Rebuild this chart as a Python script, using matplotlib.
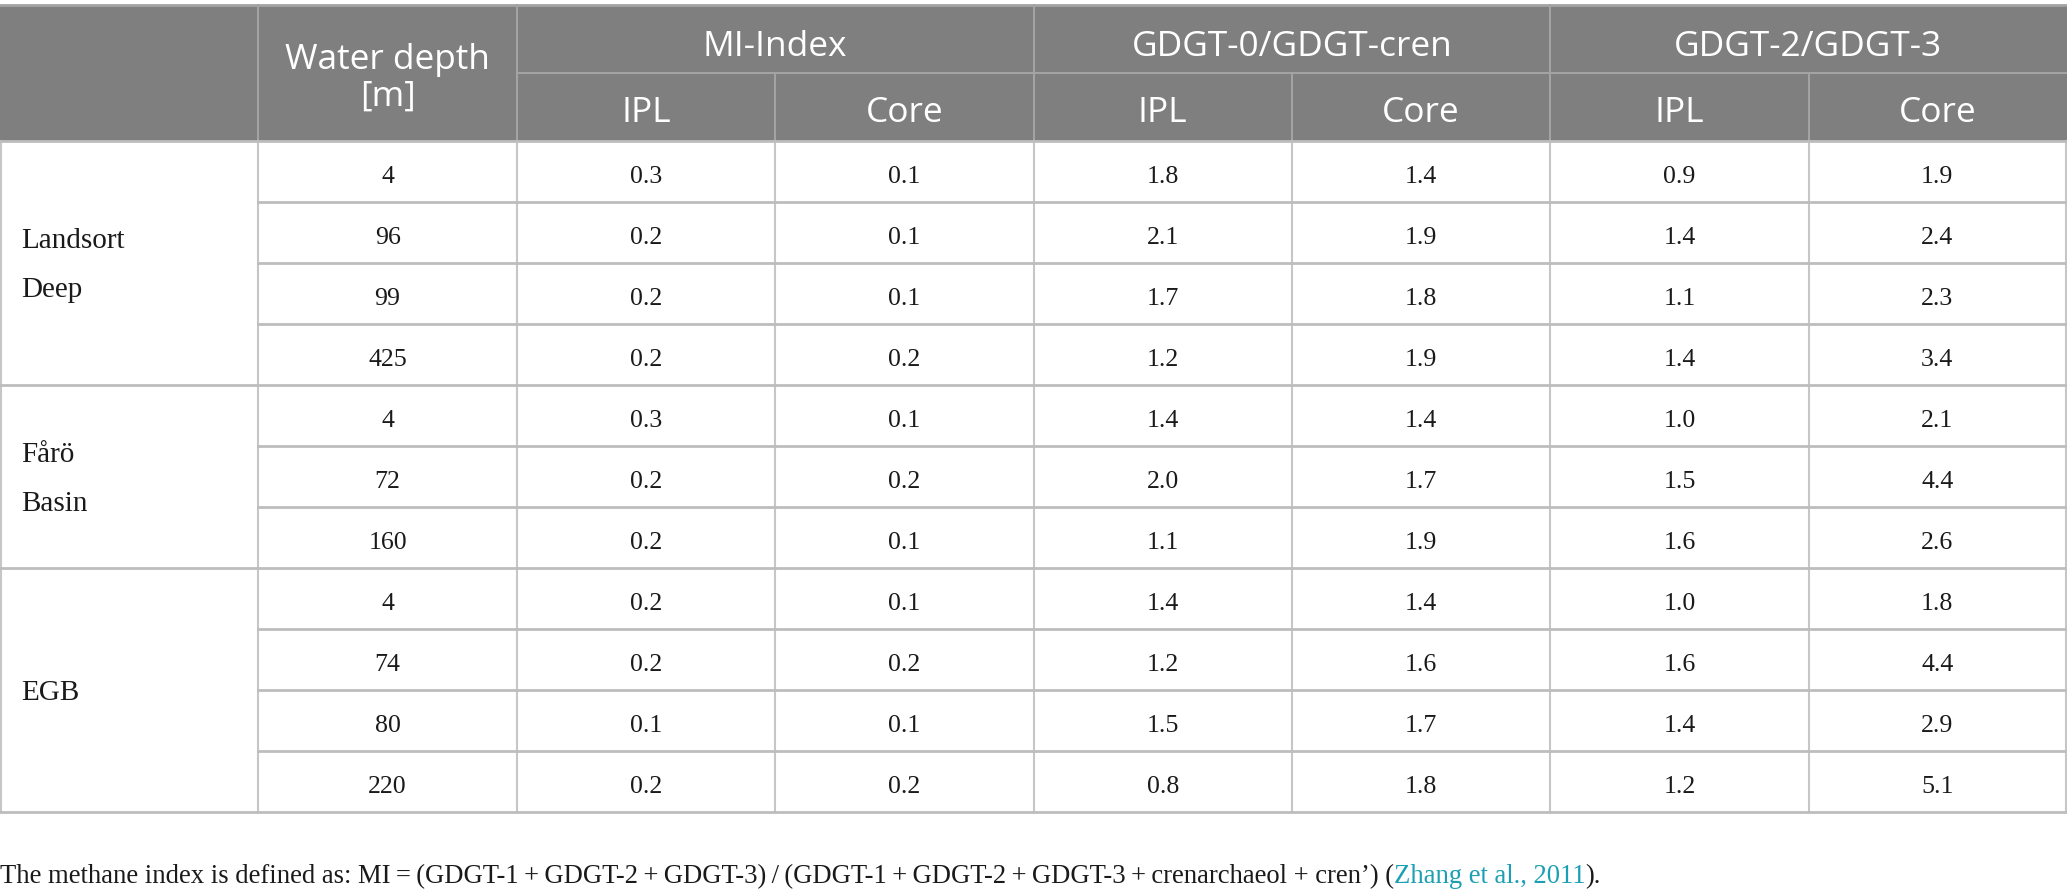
import matplotlib
matplotlib.use("Agg")
import matplotlib.pyplot as plt
from matplotlib.patches import Rectangle

# ---------------- data ----------------
groups = [["Landsort", "Deep"], ["Fårö", "Basin"], ["EGB"]]
group_sizes = [4, 3, 4]
depths = ["4", "96", "99", "425", "4", "72", "160", "4", "74", "80", "220"]
mi_ipl = ["0.3", "0.2", "0.2", "0.2", "0.3", "0.2", "0.2", "0.2", "0.2", "0.1", "0.2"]
mi_core = ["0.1", "0.1", "0.1", "0.2", "0.1", "0.2", "0.1", "0.1", "0.2", "0.1", "0.2"]
g0_ipl = ["1.8", "2.1", "1.7", "1.2", "1.4", "2.0", "1.1", "1.4", "1.2", "1.5", "0.8"]
g0_core = ["1.4", "1.9", "1.8", "1.9", "1.4", "1.7", "1.9", "1.4", "1.6", "1.7", "1.8"]
g23_ipl = ["0.9", "1.4", "1.1", "1.4", "1.0", "1.5", "1.6", "1.0", "1.6", "1.4", "1.2"]
g23_core = ["1.9", "2.4", "2.3", "3.4", "2.1", "4.4", "2.6", "1.8", "4.4", "2.9", "5.1"]
header_groups = ["MI-Index", "GDGT-0/GDGT-cren", "GDGT-2/GDGT-3"]
sub_headers = ["IPL", "Core"]
depth_header = ["Water depth", "[m]"]
footnote_pre = ("The methane index is defined as: MI\u2009=\u2009(GDGT-1\u2009+\u2009GDGT-2\u2009+\u2009GDGT-3)"
                "\u2009/\u2009(GDGT-1\u2009+\u2009GDGT-2\u2009+\u2009GDGT-3\u2009+\u2009crenarchaeol + cren\u2019) (")
footnote_link = "Zhang et al., 2011"
footnote_post = ")."

# ---------------- layout ----------------
W, H = 2067, 893
fig = plt.figure(figsize=(W / 100, H / 100), dpi=100)
ax = fig.add_axes([0, 0, 1, 1])
ax.set_xlim(0, W)
ax.set_ylim(H, 0)
ax.axis("off")
fig.canvas.draw()
R = fig.canvas.get_renderer()

sans = ["Open Sans", "DejaVu Sans"]
serif = ["Liberation Serif", "DejaVu Serif"]


def fit(text, family, target):
    t = ax.text(0, 0, text, fontsize=10, family=family)
    w = t.get_window_extent(R).width
    t.remove()
    return 10 * target / w


hsize = 0.5 * (fit("GDGT-0/GDGT-cren", sans, 352) + 23.0)
bsize = 0.5 * (fit("0.3", serif, 33) + 18.0)
gsize = fit("Landsort", serif, 104)
fsize = fit(footnote_pre + footnote_link + footnote_post, serif, 1605)

ncol = 8
cw = W / ncol
xs = [i * cw for i in range(ncol + 1)]
xs[0] = 1
xs[-1] = W - 1
y_top = 5
y_mid = 73
y_head = 141
rh = 61.0
nrows = len(depths)
ys = [y_head + i * rh for i in range(nrows + 1)]

HEAD_BG = "#7f7f7f"
HEAD_LINE = "#a3a3a3"
BODY_LINE = "#bdbdbd"
BODY_VLINE = "#c6c6c6"
TXT = "#1a1a1a"

# header background
ax.add_patch(Rectangle((0, y_top), W, y_head - y_top, facecolor=HEAD_BG, edgecolor="none", zorder=1))
ax.plot([0, W], [y_top, y_top], color=HEAD_LINE, lw=2, zorder=3)
ax.plot([xs[2], W], [y_mid, y_mid], color=HEAD_LINE, lw=1.5, zorder=3)
for i in [1, 2, 4, 6]:
    ax.plot([xs[i], xs[i]], [y_top, y_head], color=HEAD_LINE, lw=1.5, zorder=3)
for i in [3, 5, 7]:
    ax.plot([xs[i], xs[i]], [y_mid, y_head], color=HEAD_LINE, lw=1.5, zorder=3)

# header text (baseline positioned)
hcap = 0.714 * hsize * 100 / 72  # cap height in px
xc1 = (xs[1] + xs[2]) / 2
for line, yc in zip(depth_header, [56, 93]):
    ax.text(xc1, yc + hcap / 2, line, ha="center", va="baseline",
            color="white", fontsize=hsize, family=sans, zorder=4)
for g, name in enumerate(header_groups):
    c0 = 2 + 2 * g
    ax.text((xs[c0] + xs[c0 + 2]) / 2, 43 + hcap / 2, name, ha="center",
            va="baseline", color="white", fontsize=hsize, family=sans, zorder=4)
    for s, sub in enumerate(sub_headers):
        ax.text((xs[c0 + s] + xs[c0 + s + 1]) / 2, 109 + hcap / 2, sub,
                ha="center", va="baseline", color="white", fontsize=hsize, family=sans, zorder=4)

# body grid
for i in range(0, ncol + 1):
    ax.plot([xs[i], xs[i]], [y_head, ys[-1]], color=BODY_VLINE, lw=1.5, zorder=3)
group_bounds = [0]
for n in group_sizes:
    group_bounds.append(group_bounds[-1] + n)
for r in range(nrows + 1):
    x0 = 0 if r in group_bounds else xs[1]
    ax.plot([x0, W], [ys[r], ys[r]], color=BODY_LINE, lw=2, zorder=3)

# group labels
gcap = 0.66 * gsize * 100 / 72
for g, lines in enumerate(groups):
    r0, r1 = group_bounds[g], group_bounds[g + 1]
    yc = (ys[r0] + ys[r1]) / 2
    n = len(lines)
    gap = 49
    first = yc + gcap / 2 - gap * (n - 1) / 2
    for k, line in enumerate(lines):
        ax.text(21, first + k * gap, line, ha="left", va="baseline", color=TXT,
                fontsize=gsize, family=serif, zorder=4)

# body values
bcap = 0.66 * bsize * 100 / 72
cols = [depths, mi_ipl, mi_core, g0_ipl, g0_core, g23_ipl, g23_core]
for c, vals in enumerate(cols):
    xc = (xs[c + 1] + xs[c + 2]) / 2
    for r, v in enumerate(vals):
        ax.text(xc, (ys[r] + ys[r + 1]) / 2 + 3 + bcap / 2, v, ha="center", va="baseline",
                color=TXT, fontsize=bsize, family=serif, zorder=4)

# footnote
fy = 883
t1 = ax.text(0, fy, footnote_pre, ha="left", va="baseline", color=TXT, fontsize=fsize, family=serif)
bb = t1.get_window_extent(R)
xl = bb.x1 * W / fig.bbox.width
t2 = ax.text(xl, fy, footnote_link, ha="left", va="baseline", color="#1a9fb3",
             fontsize=fsize, family=serif)
bb2 = t2.get_window_extent(R)
xp = bb2.x1 * W / fig.bbox.width
ax.text(xp, fy, footnote_post, ha="left", va="baseline", color=TXT, fontsize=fsize, family=serif)

fig.savefig("out.png", dpi=100, facecolor="white")
